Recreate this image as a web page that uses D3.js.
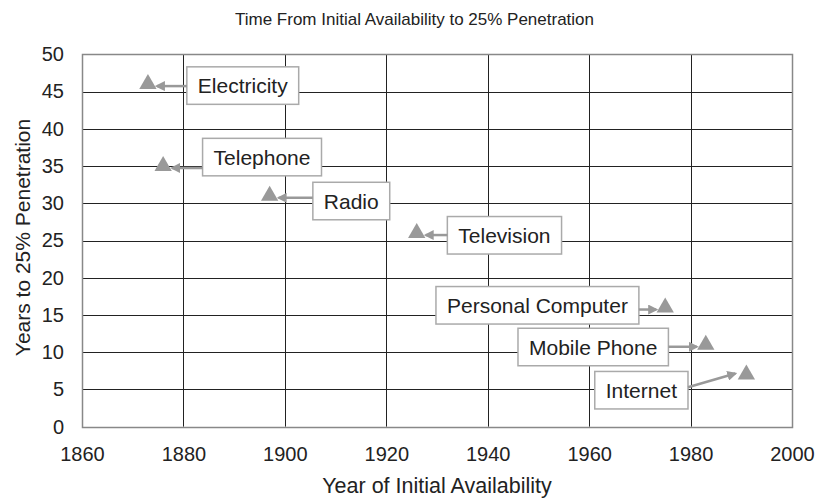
<!DOCTYPE html>
<html><head><meta charset="utf-8">
<script src="https://cdn.jsdelivr.net/npm/d3@7"></script>
<style>body{margin:0;background:#fff}svg{display:block}text{font-family:"Liberation Sans",Arial,Helvetica,sans-serif}</style>
</head><body><svg id="c" width="817" height="500"></svg>
<script>
const technologies = ["Electricity","Telephone","Radio","Television","Personal Computer","Mobile Phone","Internet"];
const years = [1873, 1876, 1897, 1926, 1975, 1983, 1991];
const yearsTo25 = [46, 35, 31, 26, 16, 11, 7];
const xTicks = [1860,1880,1900,1920,1940,1960,1980,2000];
const yTicks = [0,5,10,15,20,25,30,35,40,45,50];
// annotation label anchors (data units)
const labelYear = [1891.7, 1895.5, 1913.1, 1943.3, 1949.8, 1960.8, 1970.3];
const labelVal  = [45.8, 36.2, 30.3, 25.7, 16.3, 10.7, 4.9];

const svg = d3.select("#c");
const L=82, R=792, T=54.3, B=426.7;
const x = d3.scaleLinear().domain([1860,2000]).range([L,R]);
const y = d3.scaleLinear().domain([0,50]).range([B,T]);

svg.append("defs").append("marker").attr("id","ah").attr("viewBox","0 0 10 10")
  .attr("refX",8).attr("refY",5).attr("markerWidth",4).attr("markerHeight",4)
  .attr("orient","auto").append("path").attr("d","M0,0L10,5L0,10z").attr("fill","#999");

// grid
const g = svg.append("g");
g.selectAll(".hg").data(yTicks).join("line").attr("x1",L).attr("x2",R)
  .attr("y1",d=>Math.round(y(d))+0.5).attr("y2",d=>Math.round(y(d))+0.5).attr("stroke","#222").attr("stroke-width",1);
g.selectAll(".vg").data(xTicks).join("line").attr("y1",T).attr("y2",B)
  .attr("x1",d=>Math.round(x(d))+0.5).attr("x2",d=>Math.round(x(d))+0.5).attr("stroke","#222").attr("stroke-width",1);
g.append("rect").attr("x",Math.round(L)+0.5).attr("y",Math.round(T)+0.5)
  .attr("width",Math.round(R)-Math.round(L)).attr("height",Math.round(B)-Math.round(T))
  .attr("fill","none").attr("stroke","#888").attr("stroke-width",1.5);

// axes via d3
const xa = svg.append("g").attr("transform",`translate(0,${B})`)
  .call(d3.axisBottom(x).tickValues(xTicks).tickFormat(d3.format("d")).tickSize(0).tickPadding(20));
const ya = svg.append("g").attr("transform",`translate(${L},0)`)
  .call(d3.axisLeft(y).tickValues(yTicks).tickSize(0).tickPadding(18));
[xa,ya].forEach(a=>{a.select(".domain").remove();a.selectAll("text").attr("font-size",20).attr("fill","#222")
  .attr("font-family","'Liberation Sans',Arial,sans-serif");});

// titles
svg.append("text").attr("x",414.5).attr("y",25).attr("text-anchor","middle").attr("font-size",17).attr("fill","#222")
  .text("Time From Initial Availability to 25% Penetration");
svg.append("text").attr("x",437).attr("y",493).attr("text-anchor","middle").attr("font-size",21.5).attr("fill","#222")
  .text("Year of Initial Availability");
svg.append("text").attr("transform",`translate(30,237.5) rotate(-90)`).attr("text-anchor","middle")
  .attr("font-size",21).attr("fill","#222").text("Years to 25% Penetration");

// labels + arrows
const data = technologies.map((n,i)=>({n,yr:years[i],v:yearsTo25[i],lx:labelYear[i],lv:labelVal[i]}));
const ann = svg.append("g");
data.forEach(d=>{
  const cx=x(d.lx), cy=y(d.lv);
  const t = ann.append("text").attr("x",cx).attr("y",cy).attr("text-anchor","middle")
    .attr("dominant-baseline","central").attr("font-size",21).attr("fill","#222").text(d.n);
  const w = t.node().getComputedTextLength()+22, h=37.5;
  ann.insert("rect","text").attr("x",cx-w/2).attr("y",cy-h/2).attr("width",w).attr("height",h)
    .attr("fill","#fff").attr("stroke","#aaa").attr("stroke-width",1.5);
  const px=x(d.yr), py=y(d.v)+2;
  let x1,y1,x2,y2;
  if (cx>px){ x1=cx-w/2; y1=py; x2=px+9; y2=py; }
  else if (d.n==="Internet"){ x1=cx+w/2; y1=cy-3; x2=px-11; y2=py-3; }
  else { x1=cx+w/2; y1=py; x2=px-9; y2=py; }
  ann.append("line").attr("x1",x1).attr("y1",y1).attr("x2",x2).attr("y2",y2)
    .attr("stroke","#999").attr("stroke-width",2.5).attr("marker-end","url(#ah)");
});
svg.append("g").selectAll("path").data(data).join("path")
  .attr("transform",d=>`translate(${x(d.yr)},${y(d.v)})`)
  .attr("d",d3.symbol(d3.symbolTriangle,130)).attr("fill","#999");
</script></body></html>
